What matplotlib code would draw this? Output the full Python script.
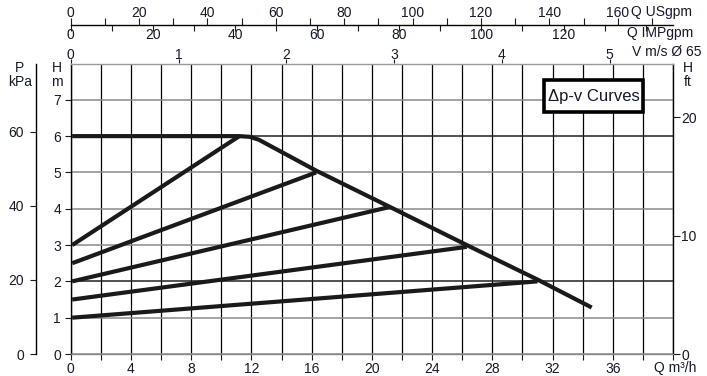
import numpy as np
import matplotlib
matplotlib.use("Agg")
import matplotlib.pyplot as plt
from matplotlib.patches import Rectangle
from matplotlib.ticker import MultipleLocator

plt.rcParams['font.family'] = ['Liberation Sans', 'DejaVu Sans']
plt.rcParams['font.size'] = 10

# ---------------- data (Q in m3/h, H in m) ----------------
max_q = [0.1, 11.2, 11.9, 12.5, 16.3, 21.2, 26.3, 31.0, 34.6]
max_h = [6.0, 6.0, 5.98, 5.9, 5.05, 4.05, 3.0, 2.05, 1.28]

pv_q0 = [0.1, 0.1, 0.1, 0.1, 0.1]
pv_h0 = [3.0, 2.5, 2.0, 1.5, 1.0]
pv_q1 = [11.2, 16.3, 21.2, 26.3, 31.0]
pv_h1 = [6.0, 5.0, 4.05, 2.95, 2.0]

x_ticks = [0, 4, 8, 12, 16, 20, 24, 28, 32, 36]
h_ticks = [0, 1, 2, 3, 4, 5, 6, 7]
kpa_ticks = [0, 20, 40, 60]
ft_ticks = [0, 10, 20]
v_ticks = [0, 1, 2, 3, 4, 5]
usgpm_ticks = [0, 20, 40, 60, 80, 100, 120, 140, 160]
impgpm_ticks = [0, 20, 40, 60, 80, 100, 120]

# unit conversions as printed on the sheet
KPA_PER_M = 9.8
FT_PER_M = 3.07
Q_PER_V = 7.16          # m3/h per m/s (DN65)
USGPM_PER_Q = 4.403
US_PER_IMP = 1.20095

ink = '#1a1a1a'
txt = '#151a2a'

# ---------------- figure ----------------
fig = plt.figure(figsize=(7.07, 3.76), dpi=100)
L, B = 70.7 / 707, 22 / 376
W, H = (673 - 70.7) / 707, (354 - 63.5) / 376
ax = fig.add_axes([L, B, W, H])
ax.set_xlim(0, 40)
ax.set_ylim(0, 8)

# grid
ax.xaxis.set_major_locator(MultipleLocator(4))
ax.xaxis.set_minor_locator(MultipleLocator(2))
ax.set_xticks(x_ticks)
ax.set_yticks(h_ticks)
ax.yaxis.set_minor_locator(MultipleLocator(1))
ax.grid(which='both', axis='x', color='black', lw=0.9)
ax.grid(which='both', axis='y', color='#8a8a8a', lw=1.1)
for lvl, gl in zip(h_ticks, ax.yaxis.get_gridlines()):
    if lvl in (2, 6):
        gl.set_color('#222222')
ax.set_axisbelow(True)

ax.tick_params(axis='x', which='both', direction='out', length=4, width=0.8,
               pad=1.5, colors=ink, labelcolor=txt)
ax.tick_params(axis='y', which='major', direction='out', length=4, width=0.8,
               pad=3, colors=ink, labelcolor=txt)
ax.tick_params(axis='y', which='minor', length=0)

ax.spines['left'].set_color('black')
ax.spines['right'].set_color('black')
ax.spines['top'].set_color('#9a9a9a')
ax.spines['bottom'].set_color('#8a8a8a')
for s in ax.spines.values():
    s.set_linewidth(1.0)

# curves
ax.plot(max_q, max_h, color=ink, lw=3.0, solid_capstyle='butt',
        solid_joinstyle='round', zorder=5)
for q0, h0, q1, h1 in zip(pv_q0, pv_h0, pv_q1, pv_h1):
    ax.plot([q0, q1], [h0, h1], color=ink, lw=3.0, solid_capstyle='butt',
            zorder=5)

# kPa axis on the far left
kpa = ax.secondary_yaxis(-(70.7 - 36) / 602.3,
                         functions=(lambda m: m * KPA_PER_M, lambda p: p / KPA_PER_M))
kpa.set_yticks(kpa_ticks)
kpa.tick_params(direction='out', length=4, width=0.8, pad=4.5, colors=ink,
                labelcolor=txt)
kpa.spines['left'].set_linewidth(1.0)

# ft axis on the right
ft = ax.secondary_yaxis('right',
                        functions=(lambda m: m * FT_PER_M, lambda f: f / FT_PER_M))
ft.set_yticks(ft_ticks)
ft.tick_params(direction='out', length=5, width=0.8, pad=1, colors=ink,
               labelcolor=txt)
ft.spines['right'].set_visible(False)

# velocity axis on top
vel = ax.secondary_xaxis('top',
                         functions=(lambda q: q / Q_PER_V, lambda v: v * Q_PER_V))
vel.set_xticks(v_ticks)
vel.tick_params(direction='out', length=3, width=0.8, pad=-2, colors=ink,
                labelcolor=txt)
vel.spines['top'].set_visible(False)

# flow in gpm, separate line at the very top
gax = fig.add_axes([L, 1 - 25 / 376, W, 1e-4])
gax.set_xlim(0, 40 * USGPM_PER_Q)
gax.yaxis.set_visible(False)
for side in ('left', 'right', 'top'):
    gax.spines[side].set_visible(False)
gax.spines['bottom'].set_linewidth(1.0)
gax.patch.set_visible(False)
gax.xaxis.set_ticks_position('top')
gax.xaxis.set_label_position('top')
gax.set_xticks(usgpm_ticks)
gax.xaxis.set_minor_locator(MultipleLocator(10))
gax.tick_params(which='both', direction='out', length=5, width=0.8, pad=-1.5,
                colors=ink, labelcolor=txt)
imp = gax.secondary_xaxis('bottom',
                          functions=(lambda u: u / US_PER_IMP, lambda i: i * US_PER_IMP))
imp.set_xticks(impgpm_ticks)
imp.xaxis.set_minor_locator(MultipleLocator(10))
imp.tick_params(which='both', direction='out', length=4, width=0.8, pad=-2,
                colors=ink, labelcolor=txt)
imp.spines['bottom'].set_visible(False)

# axis names
def ftext(x, y, s, **kw):
    fig.text(x / 707, 1 - y / 376, s, color=txt, va='center', **kw)

ftext(631, 12, 'Q USgpm', ha='left')
ftext(693, 33, 'Q IMPgpm', ha='right')
ftext(632, 52, 'V m/s Ø 65', ha='left')
ftext(688, 75, 'H\nft', ha='center', multialignment='center', linespacing=1.0)
ftext(20, 75, 'P\nkPa', ha='center', multialignment='center', linespacing=1.0)
ftext(57, 75, 'H\nm', ha='center', multialignment='center', linespacing=1.0)
ftext(675, 368, 'Q m³/h', ha='center')

# legend box
fig.patches.append(Rectangle((544 / 707, 1 - 112 / 376), 99 / 707, 32 / 376,
                             transform=fig.transFigure, fill=True, fc='white',
                             ec='black', lw=2.6, zorder=10))
fig.text(593.5 / 707, 1 - 96 / 376, 'Δp-v Curves', ha='center', va='center',
         fontsize=12, color=txt, zorder=11)

fig.savefig('out.png', dpi=100)
